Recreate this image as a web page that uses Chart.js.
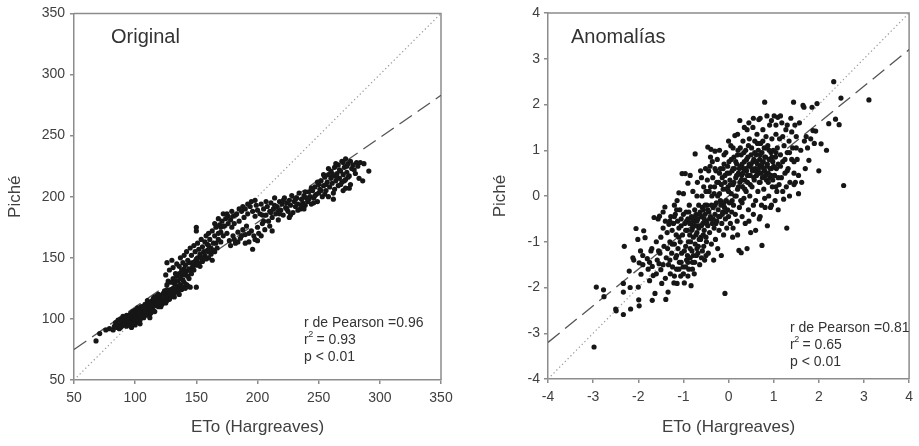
<!DOCTYPE html>
<html><head><meta charset="utf-8">
<script src="https://cdn.jsdelivr.net/npm/chart.js@4.4.1/dist/chart.umd.min.js"></script>
<style>
html,body{margin:0;padding:0;background:#fff;}
#wrap{position:relative;width:919px;height:446px;overflow:hidden;}
#c1{position:absolute;left:0;top:0;}
#c2{position:absolute;left:460px;top:0;}
</style></head><body>
<div id="wrap"><canvas id="c1" width="460" height="446"></canvas><canvas id="c2" width="459" height="446"></canvas></div>
<script>
// ---------- DATA ----------
const xTitle = 'ETo (Hargreaves)';
const yTitle = 'Piché';
const panelTitles = ['Original', 'Anomalías'];
const origTicks = [50, 100, 150, 200, 250, 300, 350];
const anomTicks = [-4, -3, -2, -1, 0, 1, 2, 3, 4];
const origStats = ['r de Pearson =0.96', '0.93', 'p < 0.01'];
const anomStats = ['r de Pearson =0.81', '0.65', 'p < 0.01'];
// regression (dashed) line end points
const origFit = [[50, 75], [350, 283]];
const anomFit = [[-4, -3.2], [4, 3.2]];
// 1:1 (dotted) line
const origOneToOne = [[50, 50], [350, 350]];
const anomOneToOne = [[-4, -4], [4, 4]];

// Original panel: [ETo, Piché]
const origPoints = [
[68,82],[71,88],[76,91],[79,92],[82,91],[83,94],[84,97],[85,93],[86,95],[86,99],[87,92],[88,96],[88,100],[89,94],[90,98],[90,102],[91,95],[92,97],[92,100],[93,103],[93,94],[94,99],[95,101],[95,96],[96,104],[96,98],[97,100],[97,93],[98,102],[98,106],[99,99],[99,104],[100,101],[100,107],[101,97],[101,103],[102,105],[102,100],[103,108],[103,102],[104,104],[104,99],[105,106],[105,110],[106,103],[106,108],[107,101],[107,105],[108,109],[108,112],[109,106],[109,103],[110,108],[110,111],[111,113],[111,106],[112,110],[112,104],[113,112],[113,108],[114,115],[114,110],[115,112],[115,107],[116,114],[116,118],[117,111],[117,116],[118,113],[118,119],[119,115],[119,110],[120,117],[120,113],[121,119],[121,115],[122,112],[122,118],[123,121],[123,116],[124,114],[124,119],[125,117],[125,122],[126,120],[126,115],[127,118],[127,123],[128,121],[128,116],[129,124],[130,119],[130,122],[131,125],[132,121],[133,124],[134,127],[135,122],[136,125],[137,128],[138,124],[139,126],[140,130],[141,125],[142,128],[143,127],[144,133],[145,126],
[96,95],[104,96],[112,101],[100,95],[116,106],[91,99],[94,102],[98,97],[102,109],[107,110],[110,104],[114,107],[118,116],[121,112],[124,123],[128,119],[132,118],[136,120],
[88,93],[92,101],[95,98],[97,105],[101,100],[103,105],[105,102],[108,106],[110,115],[113,105],[115,117],[117,113],[119,120],[121,110],[123,118],[125,113],[126,124],[129,118],
[126,128],[127,131],[129,130],[131,133],[132,129],[133,131],[134,135],[135,131],[136,137],[137,133],[138,136],[139,132],[140,141],[141,136],[142,139],[143,135],[144,146],[145,140],[146,137],[147,143],[148,140],[149,147],[150,144],[151,150],[152,146],[153,143],[154,150],[155,147],[156,155],[157,152],[158,149],[159,161],[160,155],[162,158],[164,156],[166,162],[168,170],[170,175],[172,176],
[125,136],[126,146],[128,140],[130,148],[131,142],[133,137],[134,145],[136,143],[137,150],[138,140],[139,146],[140,138],[140,152],[141,144],[142,155],[143,148],[144,141],[145,158],[146,152],[147,146],[148,160],[149,155],[150,126],[150,172],[150,175],[150,149],[151,162],[152,157],[153,153],[154,165],[155,159],[156,150],[157,163],[158,168],[159,156],[160,160],[160,170],[161,165],[162,153],[163,172],[164,162],[165,168],[166,175],[167,158],[168,165],[169,177],[170,171],[170,163],[171,180],[172,168],[173,176],[174,182],[175,170],[175,186],[176,178],[177,164],[178,181],[179,175],[180,184],[180,168],[181,178],[182,162],[183,186],[184,171],[185,180],[186,166],[187,188],[188,173],[189,183],[190,169],[190,190],[191,176],[192,186],[193,163],[194,192],[195,172],[196,157],[196,188],[197,168],[198,184],[199,193],[200,175],[200,189],
[160,150],[163,148],[165,155],[165,178],[168,182],[172,186],[176,184],[179,188],[182,185],[185,190],[188,192],[192,194],[195,196],[198,197],
[178,160],[181,165],[184,163],[187,168],[190,162],[193,170],[198,165],[200,164],[203,168],[205,180],[210,176],[212,172],
[201,170],[202,186],[203,194],[204,178],[205,190],[206,173],[207,185],[208,192],[209,180],[210,188],[211,195],[212,183],[213,190],[214,199],[215,186],[216,192],[217,181],[218,196],[219,189],[220,194],[221,185],[222,199],[223,191],[224,195],[225,188],[226,197],[227,193],[228,201],[229,187],[230,196],[231,192],[232,199],[233,194],[234,203],[235,190],[236,198],[237,195],[238,201],[239,193],[240,199],[241,196],[242,204],[243,200],[244,194],[245,205],[246,199],[247,208],[248,202],[249,196],[250,210],[250,203],[251,206],[252,213],[253,200],[254,209],[255,216],[256,205],[257,212],[258,200],[258,218],[259,208],[260,215],[260,221],[261,211],[262,217],[263,206],[263,224],[264,213],[265,219],[266,209],[266,226],[267,215],[268,221],[269,212],[269,229],[270,218],[271,224],[272,214],[272,231],[273,220],[274,227],[275,207],[275,217],[276,210],[277,223],[278,226],[280,219],[282,225],[284,228],[286,213],[287,227],[291,221],
[204,185],[207,196],[211,187],[214,193],[218,186],[221,197],[224,190],[227,185],[231,198],[233,189],[236,193],[239,204],[242,198],[244,207],[247,201],[249,212],[252,205],[254,218],[256,210],[258,223],[261,219],[262,203],[264,227],[265,216],[267,222],[268,210],[270,228],[271,213],[273,225],[274,216],[276,229],[279,222],[281,228],[283,215],[272,207],[270,205],[262,198],[255,202],[246,195],[238,190],[226,183],[217,188]
];

// Anomalías panel: [ETo, Piché]
const anomPoints = [
[-2.98,-3.3],[-2.93,-1.99],[-2.77,-2.05],[-2.76,-2.2],[-2.5,-2.47],[-2.49,-2.51],[-2.33,-2.59],[-2.33,-2.1],[-2.33,-1.91],[-2.31,-1.1],[-2.2,-1.64],[-2.18,-2.0],[-2.17,-2.47],[-2.12,-1.35],[-2.1,-1.4],[-2.05,-0.71],[-2.01,-0.95],[-2.0,-1.99],[-1.99,-2.27],[-1.98,-2.4],[-1.98,-1.46],[-1.94,-1.71],
[-1.95,-1.2],[-1.9,-1.5],[-1.88,-0.76],[-1.85,-0.91],[-1.8,-1.37],[-1.78,-1.6],[-1.75,-1.85],[-1.72,-1.2],[-1.7,-1.15],[-1.69,-1.54],[-1.67,-1.74],[-1.69,-2.28],[-1.65,-0.47],[-1.63,-2.13],[-1.6,-1.0],[-1.58,-1.4],[-1.56,-0.5],[-1.54,-1.48],[-1.52,-1.25],[-1.5,-1.61],[-1.53,-0.44],[-1.48,-1.91],[-1.5,-0.9],
[-1.45,-0.7],[-1.43,-1.1],[-1.41,-0.24],[-1.4,-0.55],[-1.39,-2.26],[-1.38,-1.35],[-1.36,-0.8],[-1.34,-2.1],[-1.33,-1.5],[-1.32,-0.62],[-1.3,-1.0],[-1.29,-1.7],[-1.28,-0.45],[-1.26,-1.25],[-1.25,-0.75],[-1.24,-1.55],[-1.22,-0.6],[-1.21,-1.9],[-1.2,-1.05],[-1.18,-0.4],[-1.17,-1.35],[-1.16,-0.85],[-1.15,-1.6],[-1.14,-1.91],[-1.14,-0.1],[-1.13,-0.55],[-1.12,-1.15],[-1.1,0.07],[-1.1,-0.7],[-1.09,-1.45],[-1.08,-0.3],[-1.07,-1.0],[-1.06,-1.75],[-1.05,-0.5],[-1.04,-1.25],[-1.03,0.49],[-1.02,-0.85],[-1.01,-1.55],
[-0.98,-1.9],[-0.97,-0.6],[-0.96,0.49],[-0.95,-1.1],[-0.94,-0.35],[-0.93,-1.4],[-0.92,-0.75],[-0.91,-1.3],[-0.9,0.28],[-0.9,-0.5],[-0.89,-1.0],[-0.88,-1.6],[-0.87,-0.2],[-0.86,-0.85],[-0.85,-1.35],[-0.84,-0.6],[-0.83,-1.96],[-0.82,-0.45],[-0.81,-1.2],[-0.8,-0.7],[-0.8,-1.45],[-0.79,0.1],[-0.78,-0.9],[-0.77,-0.55],[-0.76,-1.7],[-0.75,-0.3],[-0.74,0.92],[-0.74,-1.05],[-0.73,-0.65],[-0.72,-0.4],[-0.71,-1.3],[-0.7,-0.8],[-0.69,0.3],[-0.68,-0.5],[-0.67,-1.1],[-0.66,-0.2],[-0.65,-0.65],[-0.64,-1.5],[-0.63,-0.35],[-0.62,0.55],[-0.61,-0.9],[-0.6,-0.45],[-0.59,0.0],[-0.58,-1.2],[-0.57,-0.6],[-0.56,-0.3],[-0.55,0.2],[-0.54,-0.75],[-0.53,-1.4],[-0.52,-0.4],[-0.51,0.6],[-0.5,-0.55],
[-0.49,-1.0],[-0.48,-0.2],[-0.47,0.35],[-0.46,1.07],[-0.46,-0.65],[-0.45,-1.25],[-0.44,-0.35],[-0.43,0.1],[-0.42,-0.8],[-0.41,0.65],[-0.4,-0.45],[-0.39,1.02],[-0.38,-1.05],[-0.37,0.0],[-0.36,-0.6],[-0.35,0.4],[-0.34,-0.25],[-0.33,-1.4],[-0.32,-0.7],[-0.31,0.2],[-0.3,0.98],[-0.3,-0.4],[-0.29,-0.95],[-0.28,0.55],[-0.27,-0.15],[-0.26,-0.55],[-0.25,0.8],[-0.24,-1.15],[-0.23,-0.3],[-0.22,0.3],[-0.21,-0.75],[-0.2,0.05],[-0.19,-0.45],[-0.18,0.6],[-0.17,-0.2],[-0.16,-1.3],[-0.15,-0.6],[-0.14,0.4],[-0.13,-0.35],[-0.12,0.15],[-0.11,-0.85],[-0.1,0.7],[-0.09,-0.25],[-0.08,-2.13],[-0.08,0.3],[-0.07,-0.5],[-0.06,0.95],[-0.05,-0.1],[-0.04,-0.7],[-0.03,0.5],[-0.02,-0.3],[-0.01,0.2],
[0.0,-0.45],[0.01,0.75],[0.02,-0.15],[0.03,0.35],[0.04,-0.6],[0.05,1.1],[0.06,0.05],[0.07,-0.35],[0.08,0.55],[0.09,-0.9],[0.1,0.25],[0.11,-0.2],[0.12,0.85],[0.13,0.6],[0.14,1.32],[0.15,-0.4],[0.16,0.4],[0.17,0.0],[0.18,0.7],[0.19,-0.55],[0.2,0.15],[0.21,1.0],[0.22,0.5],[0.23,-1.19],[0.24,-0.25],[0.25,1.65],[0.25,0.3],[0.26,0.65],[0.27,-0.1],[0.28,-1.24],[0.28,0.9],[0.29,0.45],[0.3,-0.45],[0.31,0.2],[0.32,1.2],[0.33,0.6],[0.34,-0.05],[0.35,0.75],[0.36,0.35],[0.37,-0.6],[0.38,1.0],[0.39,0.1],[0.4,0.55],[0.41,-1.15],[0.41,1.45],[0.42,0.3],[0.43,0.85],[0.44,-0.3],[0.45,0.65],[0.46,1.25],[0.47,0.0],[0.48,0.45],[0.49,-0.8],[0.5,0.7],
[0.51,1.05],[0.52,0.2],[0.53,0.55],[0.54,1.5],[0.55,-0.4],[0.56,0.8],[0.57,0.35],[0.58,1.2],[0.59,0.6],[0.6,-0.1],[0.61,0.9],[0.62,0.45],[0.63,1.35],[0.64,0.7],[0.65,0.1],[0.66,1.0],[0.67,1.67],[0.67,0.5],[0.68,-0.5],[0.69,0.8],[0.7,0.3],[0.71,1.15],[0.72,0.65],[0.73,-0.2],[0.74,-1.08],[0.74,0.95],[0.75,0.4],[0.76,1.45],[0.77,0.75],[0.78,0.15],[0.79,1.05],[0.8,2.05],[0.8,0.55],[0.81,-0.25],[0.82,0.85],[0.83,1.3],[0.84,0.35],[0.85,0.65],[0.86,-0.65],[0.87,1.1],[0.88,0.5],[0.89,0.0],[0.9,0.8],[0.91,1.55],[0.92,0.4],[0.93,-0.25],[0.94,0.95],[0.95,0.6],[0.96,1.25],[0.97,0.2],[0.98,0.75],[0.99,1.0],
[1.01,1.75],[1.02,0.45],[1.03,-0.1],[1.04,0.85],[1.05,1.35],[1.06,0.6],[1.07,0.1],[1.08,1.05],[1.09,1.72],[1.1,0.7],[1.12,0.25],[1.13,1.25],[1.15,0.9],[1.17,0.4],[1.18,1.6],[1.2,0.75],[1.22,-0.07],[1.23,1.1],[1.25,0.5],[1.27,1.45],[1.28,0.2],[1.29,-0.7],[1.3,0.95],[1.32,0.6],[1.34,1.2],[1.36,0.3],[1.38,1.7],[1.4,0.8],[1.42,1.05],[1.44,2.05],[1.45,0.5],[1.47,1.55],[1.48,0.3],
[1.5,1.3],[1.52,0.8],[1.55,0.45],[1.57,1.6],[1.6,1.0],[1.62,0.3],[1.65,1.98],[1.67,1.94],[1.68,1.2],[1.7,0.6],[1.72,1.3],[1.75,1.05],[1.78,0.78],[1.82,1.25],[1.85,1.94],[1.87,1.43],[1.9,1.15],[1.93,1.42],[1.96,2.02],[2.0,0.55],
[2.05,1.14],[2.17,1.0],[2.22,1.58],[2.33,2.5],[2.37,1.68],[2.45,1.56],[2.49,2.14],[2.55,0.23],[3.11,2.1],
[-1.2,-0.45],[-1.15,-0.3],[-1.1,-0.9],[-1.05,-0.65],[-1.0,-0.4],[-0.98,-1.2],[-0.95,-0.75],[-0.93,-0.55],[-0.9,-1.45],[-0.88,-0.35],[-0.86,-0.6],[-0.84,-1.0],[-0.82,-0.75],[-0.8,-0.5],[-0.78,-1.3],[-0.76,-0.65],[-0.74,-0.45],[-0.72,-0.85],[-0.7,-0.55],[-0.68,-1.25],[-0.66,-0.7],[-0.64,-0.4],[-0.62,-0.95],[-0.6,-0.65],[-0.58,-0.25],[-0.56,-0.85],[-0.54,-0.5],[-0.52,-0.2],[-0.5,-0.9],[-0.48,-0.6],[-0.46,-0.3],[-0.44,0.55],[-0.42,-0.5],[-0.4,0.2],[-0.38,-0.2],[-0.36,0.75],[-0.34,-0.5],[-0.32,0.05],[-0.3,-0.2],[-0.28,-0.6],[-0.26,0.3],[-0.24,0.0],[-0.22,-0.45],[-0.2,0.5],[-0.18,-0.1],[-0.16,0.25],[-0.14,-0.4],[-0.12,0.6],[-0.1,-0.15],[-0.08,0.45],[-0.06,-0.35],[-0.04,0.15],[-0.02,0.65],[0.0,0.1],[0.02,0.5],[0.04,0.25],[0.06,0.8],[0.08,-0.1],[0.1,0.6],[0.12,0.3],[0.14,0.0],[0.16,0.75],[0.18,0.45],[0.2,0.9],[0.22,0.2],[0.24,0.6],[0.26,1.05],[0.28,0.35],[0.3,0.7],[0.32,0.5],[0.34,0.95],[0.36,0.15],[0.38,0.6],[0.4,0.8],[0.42,0.45],[0.44,1.1],[0.46,0.7],[0.48,0.25],[0.5,0.9],[0.52,0.6],[0.54,0.75],[0.56,0.4],[0.58,0.95],[0.6,0.55],[0.62,0.75],[0.64,1.15],[0.66,0.6],[0.68,0.3],[0.7,0.9],[0.72,0.5],[0.74,0.7],[0.76,1.2],[0.78,0.6],[0.8,0.85],[0.82,0.45],[0.84,1.05],[0.86,0.7],[0.88,0.3],[0.9,1.0],[0.92,0.6],[0.94,0.45],[0.96,0.85],[0.98,0.35],[1.0,0.65],[1.05,0.95],[1.1,0.4],[1.15,0.65],[1.2,1.3],[1.25,0.8],[1.3,0.55],[1.35,0.95],[1.4,1.4],[1.45,0.75],[1.5,1.05],
[-1.9,-1.3],[-1.75,-1.45],[-1.6,-1.7],[-1.55,-1.2],[-1.45,-1.5],[-1.4,-1.8],[-1.35,-1.15],[-1.3,-1.4],[-1.25,-1.05],[-1.2,-1.75],[-1.15,-1.3],[-1.1,-1.6],[-1.05,-1.45],[-1.0,-1.7],[-0.95,-1.55],[-0.9,-1.75],[-0.85,-1.15],[-0.8,-1.6],[-0.75,-1.45],[-0.7,-1.15],[-0.65,-0.95],[-0.6,-1.35],[-0.55,-1.1],[-0.5,-1.3],
[-1.45,-0.35],[-1.3,-0.55],[-1.2,-0.2],[-1.0,0.05],[-0.85,0.45],[-0.7,0.0],[-0.6,0.4],[-0.5,0.1],[-0.4,0.85],[-0.3,0.6],[-0.2,1.0],[-0.1,0.9],[0.0,1.2],[0.1,1.05],[0.2,1.35],[0.35,1.5],[0.45,1.6],[0.55,1.7],[0.7,1.7],[0.85,1.75],[0.95,1.65],[1.05,1.55],[1.15,1.75],[1.3,1.55],
[0.1,-0.7],[0.2,-0.85],[0.3,-0.15],[0.45,-0.55],[0.55,-0.2],[0.6,-0.75],[0.7,-0.45],[0.8,-0.05],[0.95,-0.2],[1.05,0.2],[1.1,-0.3],[1.2,0.1],[1.35,0.0],[1.45,0.25],[1.55,0.05]
];

// ---------- DRAWING ----------
const FONT = '"Liberation Sans", Arial, sans-serif';
const AXIS_COLOR = '#8c8c8c';
const TEXT_COLOR = '#404040';
const toXY = arr => arr.map(p => ({x: p[0], y: p[1]}));

function makePanel(canvasId, cfg) {
  const framePlugin = {
    id: 'frame_' + canvasId,
    beforeDatasetsDraw(chart) {
      const {ctx, chartArea: a} = chart;
      ctx.save();
      ctx.strokeStyle = AXIS_COLOR;
      ctx.lineWidth = 1.5;
      ctx.beginPath();
      ctx.moveTo(a.left, a.top); ctx.lineTo(a.right, a.top); ctx.lineTo(a.right, a.bottom);
      ctx.stroke();
      ctx.restore();
    },
    afterDatasetsDraw(chart) {
      const {ctx} = chart;
      ctx.save();
      ctx.fillStyle = '#333';
      ctx.textBaseline = 'middle';
      ctx.textAlign = 'left';
      ctx.font = '20px ' + FONT;
      ctx.fillText(cfg.title, cfg.titlePos[0], cfg.titlePos[1]);
      ctx.font = '14px ' + FONT;
      const sx = cfg.statsPos[0], sy = cfg.statsPos[1], lh = 17;
      ctx.fillText(cfg.stats[0], sx, sy);
      ctx.fillText('r', sx, sy + lh);
      const rw = ctx.measureText('r').width;
      ctx.font = '9px ' + FONT;
      ctx.fillText('2', sx + rw - 0.5, sy + lh - 5);
      const w2 = ctx.measureText('2').width;
      ctx.font = '14px ' + FONT;
      ctx.fillText(' = ' + cfg.stats[1], sx + rw + w2 - 1, sy + lh);
      ctx.fillText(cfg.stats[2], sx, sy + 2 * lh);
      ctx.restore();
    }
  };

  const tickFont = {family: FONT, size: 14};
  const titleFont = {family: FONT, size: 17};

  return new Chart(document.getElementById(canvasId), {
    type: 'scatter',
    data: {
      datasets: [
        {data: toXY(cfg.points), pointRadius: 2.6, pointHoverRadius: 2.6, pointStyle: 'circle',
         backgroundColor: '#161616', borderColor: '#161616', borderWidth: 0, order: 0},
        {data: toXY(cfg.fit), showLine: true, pointRadius: 0, borderColor: '#555', borderWidth: 1.3,
         borderDash: [15, 7], order: 2},
        {data: toXY(cfg.oneToOne), showLine: true, pointRadius: 0, borderColor: '#9a9a9a', borderWidth: 1.2,
         borderDash: [1.3, 2.7], order: 3}
      ]
    },
    options: {
      responsive: false,
      animation: false,
      devicePixelRatio: 1,
      layout: {padding: {left: 0, top: 13, right: cfg.padRight, bottom: 0}},
      plugins: {legend: {display: false}, tooltip: {enabled: false}},
      scales: {
        x: {
          type: 'linear', min: cfg.ticks[0], max: cfg.ticks[cfg.ticks.length - 1],
          afterBuildTicks: s => { s.ticks = cfg.ticks.map(v => ({value: v})); },
          ticks: {color: TEXT_COLOR, font: tickFont, padding: 6, maxRotation: 0, autoSkip: false},
          grid: {drawOnChartArea: false, drawTicks: true, tickLength: 4, color: AXIS_COLOR, lineWidth: 1.5},
          border: {display: true, color: AXIS_COLOR, width: 1.5},
          title: {display: true, text: xTitle, color: TEXT_COLOR, font: titleFont, padding: {top: 0, bottom: 8}},
          afterFit: s => { s.height = cfg.xHeight; }
        },
        y: {
          type: 'linear', min: cfg.ticks[0], max: cfg.ticks[cfg.ticks.length - 1],
          afterBuildTicks: s => { s.ticks = cfg.ticks.map(v => ({value: v})); },
          ticks: {color: TEXT_COLOR, font: tickFont, padding: cfg.yPad, autoSkip: false},
          grid: {drawOnChartArea: false, drawTicks: true, tickLength: 4, color: AXIS_COLOR, lineWidth: 1.5},
          border: {display: true, color: AXIS_COLOR, width: 1.5},
          title: {display: true, text: yTitle, color: TEXT_COLOR, font: titleFont, padding: {top: cfg.yTitlePad, bottom: 0}},
          afterFit: s => { s.width = cfg.yWidth; }
        }
      }
    },
    plugins: [framePlugin]
  });
}

makePanel('c1', {
  points: origPoints, fit: origFit, oneToOne: origOneToOne, ticks: origTicks,
  title: panelTitles[0], stats: origStats,
  titlePos: [111, 37], statsPos: [304, 323],
  padRight: 19, xHeight: 66, yWidth: 74, yPad: 5, yTitlePad: 5
});
makePanel('c2', {
  points: anomPoints, fit: anomFit, oneToOne: anomOneToOne, ticks: anomTicks,
  title: panelTitles[1], stats: anomStats,
  titlePos: [111, 37], statsPos: [330, 328],
  padRight: 6, xHeight: 67, yWidth: 88, yPad: 4, yTitlePad: 30
});
</script>
</body></html>
